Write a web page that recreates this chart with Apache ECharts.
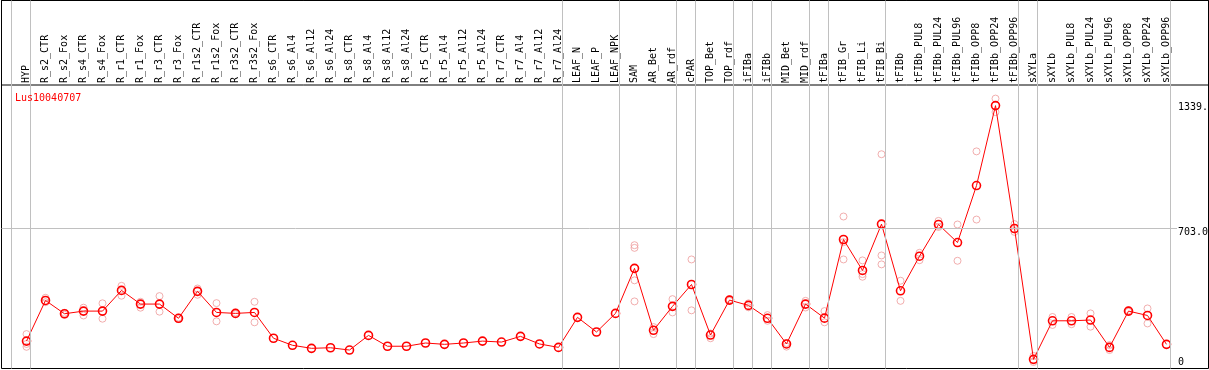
<!DOCTYPE html>
<html>
<head>
<meta charset="utf-8">
<script src="https://cdn.jsdelivr.net/npm/echarts@6/dist/echarts.min.js"></script>
<style>
html,body{margin:0;padding:0;background:#fff;}
#chart{width:1209px;height:370px;}
</style>
</head>
<body>
<div id="chart"></div>
<script>
const geneName = 'Lus10040707';
const categories = ['HYP','R_s2_CTR','R_s2_Fox','R_s4_CTR','R_s4_Fox','R_r1_CTR','R_r1_Fox','R_r3_CTR','R_r3_Fox',
  'R_r1s2_CTR','R_r1s2_Fox','R_r3s2_CTR','R_r3s2_Fox','R_s6_CTR','R_s6_Al4','R_s6_Al12','R_s6_Al24',
  'R_s8_CTR','R_s8_Al4','R_s8_Al12','R_s8_Al24','R_r5_CTR','R_r5_Al4','R_r5_Al12','R_r5_Al24',
  'R_r7_CTR','R_r7_Al4','R_r7_Al12','R_r7_Al24','LEAF_N','LEAF_P','LEAF_NPK','SAM','AR_Bet','AR_rdf',
  'cPAR','TOP_Bet','TOP_rdf','iFIBa','iFIBb','MID_Bet','MID_rdf','tFIBa','tFIB_Gr','tFIB_Li','tFIB_Bi',
  'tFIBb','tFIBb_PUL8','tFIBb_PUL24','tFIBb_PUL96','tFIBb_OPP8','tFIBb_OPP24','tFIBb_OPP96',
  'sXYLa','sXYLb','sXYLb_PUL8','sXYLb_PUL24','sXYLb_PUL96','sXYLb_OPP8','sXYLb_OPP24','sXYLb_OPP96'];
const meanValues = [110,324,254,268,268,377,305,305,230,372,261,256,261,125,88,72,75,63,140,83,83,100,93,100,110,
  105,135,95,77,235,158,256,493,167,293,408,142,326,298,230,95,305,231,645,482,726,375,557,724,629,929,1350,703,
  14,217,217,221,77,268,245,93];
const rep1 = [147,338,259,286,309,401,317,347,234,387,310,260,317,null,null,null,null,null,null,null,null,null,null,null,null,
  null,null,null,null,null,null,null,615,184,331,540,150,330,309,247,100,322,268,766,535,1094,428,575,743,724,1109,1387,726,
  32,237,237,256,89,272,282,null];
const rep2 = [95,315,249,245,228,349,286,265,226,354,214,252,209,null,null,null,null,null,null,null,null,null,null,null,null,
  null,null,null,null,null,null,null,601,147,261,272,125,322,288,217,81,287,209,631,463,561,322,536,711,533,750,1316,685,
  0,195,199,186,63,264,203,null];
const rep3 = [80,null,null,null,null,null,null,null,null,null,null,null,null,null,null,null,null,null,null,null,null,null,null,null,null,
  null,null,null,null,null,null,null,430,null,null,null,null,null,null,null,null,null,null,540,449,514,null,null,null,null,null,null,null,
  null,null,null,null,null,null,null,null];
const rep4 = [null,null,null,null,null,null,null,null,null,null,null,null,null,null,null,null,null,null,null,null,null,null,null,null,null,
  null,null,null,null,null,null,null,319,null,null,null,null,null,null,null,null,null,null,null,null,null,null,null,null,null,null,null,null,
  null,null,null,null,null,null,null,null];
const groupBreaks = ['HYP','R_r7_Al24','LEAF_NPK','AR_rdf','cPAR','TOP_rdf','iFIBa','iFIBb','MID_rdf','tFIBa','tFIB_Bi','tFIBb_OPP96','sXYLa','sXYLb_OPP96'];
const yTickValues = [0, 703, 1339];
const yTickLabels = ['0', '703.0', '1339.0'];

// layout
const FONT = '"DejaVu Sans Mono", monospace';
const STEP = 19, A_LEFT = 17, A_TOP = 107.7, A_BASE = 362, Y_MAX = 1339;
const A_WIDTH = STEP * categories.length;
const A_HEIGHT = A_BASE - A_TOP;
const F_LEFT = 1.5, F_TOP = 0.5, F_W = 1207, F_H = 368, HEADER_Y = 85;
const pxPerUnit = A_HEIGHT / Y_MAX;
const bxMin = (F_LEFT - A_LEFT) / STEP - 0.5;
const bxMax = bxMin + F_W / STEP;
const byMax = (A_BASE - F_TOP) / pxPerUnit;
const byMin = (A_BASE - (F_TOP + F_H)) / pxPerUnit;
const LINE_OFFSET = 4 / STEP;
const hLineEnd = (1177 - A_LEFT) / STEP - 0.5;

const repSeries = [rep1, rep2, rep3, rep4].map(arr => ({
  type: 'scatter', xAxisIndex: 0, yAxisIndex: 0, clip: false, z: 3,
  symbol: 'circle', symbolSize: 7,
  itemStyle: { color: 'rgba(0,0,0,0)', borderColor: '#ee9a9a', borderWidth: 1 },
  data: arr.map((v, i) => v == null ? null : [i, v]).filter(d => d)
}));

const breakIdx = [-1].concat(groupBreaks.map(c => categories.indexOf(c)));

const option = {
  animation: false,
  title: { text: geneName, left: 10, top: 88, textStyle: { color: '#ff0000', fontSize: 10, fontWeight: 'normal', fontFamily: FONT } },
  grid: [
    { left: A_LEFT, top: A_TOP, width: A_WIDTH, height: A_HEIGHT, containLabel: false, outerBoundsMode: 'none' },
    { left: F_LEFT, top: F_TOP, width: F_W, height: F_H, show: true, borderColor: '#000', borderWidth: 1, backgroundColor: 'rgba(0,0,0,0)', outerBoundsMode: 'none' },
    { left: F_LEFT, top: F_TOP, width: F_W, height: HEADER_Y - F_TOP, show: true, borderColor: '#000', borderWidth: 1, backgroundColor: 'rgba(0,0,0,0)', outerBoundsMode: 'none' }
  ],
  xAxis: [
    { type: 'category', gridIndex: 0, data: categories, position: 'top', offset: A_TOP - HEADER_Y, boundaryGap: true,
      axisLine: { show: false }, axisTick: { show: false }, splitLine: { show: false },
      axisLabel: { rotate: 90, interval: 0, margin: 2, fontSize: 10, fontFamily: FONT, color: '#000' } },
    { type: 'value', gridIndex: 1, min: bxMin, max: bxMax, show: false },
    { type: 'value', gridIndex: 2, min: 0, max: 1, show: false }
  ],
  yAxis: [
    { type: 'value', gridIndex: 0, position: 'right', min: 0, max: Y_MAX,
      axisLine: { show: false }, axisTick: { show: false }, splitLine: { show: false },
      axisLabel: { customValues: yTickValues, margin: 2, fontSize: 10, fontFamily: FONT, color: '#000',
        formatter: v => { const k = yTickValues.indexOf(v); const t = k >= 0 ? yTickLabels[k] : ''; return v === 703 ? '{d|' + t + '}' : t; },
        rich: { d: { padding: [8, 0, 0, 0], fontSize: 10, fontFamily: FONT, color: '#000' } } } },
    { type: 'value', gridIndex: 1, min: byMin, max: byMax, show: false },
    { type: 'value', gridIndex: 2, min: 0, max: 1, show: false }
  ],
  series: [
    { type: 'line', xAxisIndex: 1, yAxisIndex: 1, data: [], z: 1, silent: true,
      markLine: { silent: true, symbol: ['none', 'none'], label: { show: false }, animation: false,
        lineStyle: { color: '#c0c0c0', width: 1, type: 'solid' },
        emphasis: { disabled: true },
        data: breakIdx.map(i => ({ xAxis: i + LINE_OFFSET })).concat([
          [{ coord: [bxMin, yTickValues[1]] }, { coord: [hLineEnd, yTickValues[1]] }]
        ]) } }
  ].concat(repSeries).concat([
    { type: 'line', xAxisIndex: 0, yAxisIndex: 0, data: meanValues, clip: false, z: 4,
      symbol: 'circle', symbolSize: 8, showAllSymbol: true,
      lineStyle: { color: '#ff0000', width: 1 },
      itemStyle: { color: 'rgba(0,0,0,0)', borderColor: '#ff0000', borderWidth: 1.6 } }
  ])
};
const chart = echarts.init(document.getElementById('chart'), null, { renderer: 'canvas' });
chart.setOption(option);
</script>
</body>
</html>
